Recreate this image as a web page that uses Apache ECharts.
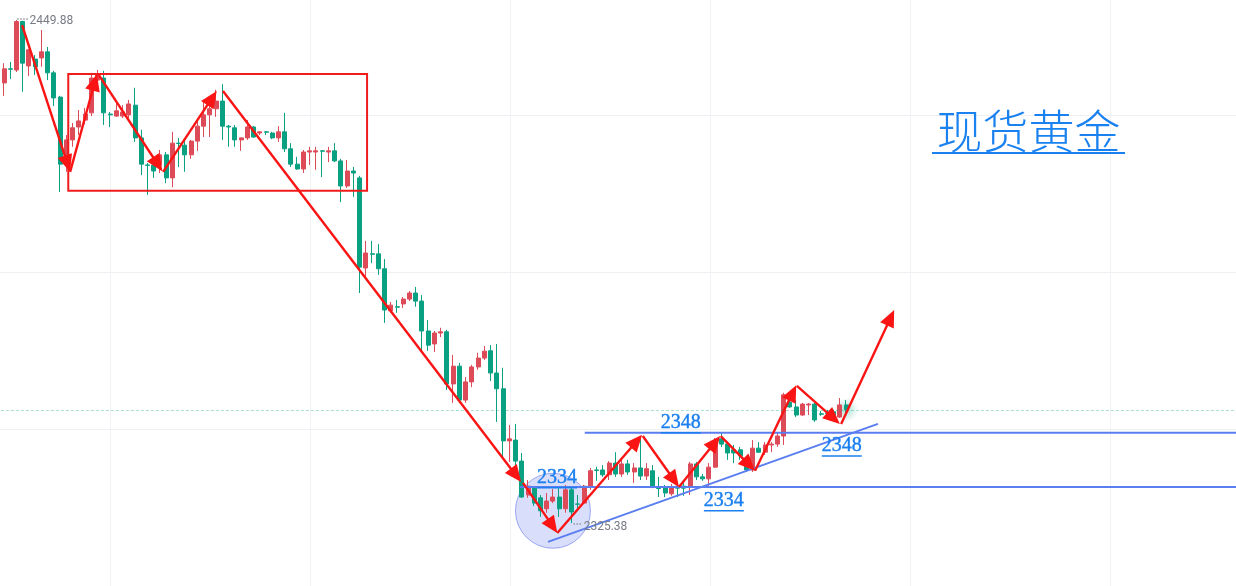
<!DOCTYPE html>
<html>
<head>
<meta charset="utf-8">
<title>现货黄金</title>
<script src="https://cdn.jsdelivr.net/npm/echarts@6.0.0/dist/echarts.min.js"></script>
<style>
html,body{margin:0;padding:0;background:#ffffff;overflow:hidden}
#chart{width:1236px;height:586px}
</style>
</head>
<body>
<div id="chart"></div>
<script>
// ---- candle values (price) ----
const opens = [
2434.3,2437.8,2437.5,2449.5,2438.5,2440.2,2440.5,2442.0,2436.8,2430.8,
2414.2,2420.2,2423.4,2425.1,2426.9,2435.0,2435.5,2426.6,2426.1,2426.1,
2426.4,2428.8,2420.7,2414.0,2414.0,2414.0,2416.5,2410.8,2419.4,2418.9,
2416.5,2419.9,2423.6,2426.4,2427.9,2429.8,2423.6,2423.2,2420.2,2420.7,
2423.4,2421.9,2422.2,2421.9,2420.7,2422.2,2418.0,2414.2,2413.0,2417.2,
2417.2,2417.5,2417.2,2417.5,2415.0,2408.8,2412.5,2410.8,2388.5,2392.0,
2392.0,2388.3,2377.9,2378.9,2379.6,2380.8,2382.3,2380.3,2372.9,2369.7,
2372.4,2372.7,2359.8,2364.2,2355.8,2360.3,2364.0,2366.2,2368.0,2362.5,
2358.6,2345.7,2345.9,2340.7,2332.3,2334.3,2331.6,2328.9,2330.8,2331.8,
2328.9,2333.6,2330.1,2330.3,2334.3,2338.5,2338.5,2337.3,2340.2,2337.5,
2340.0,2338.0,2339.0,2337.0,2338.3,2334.0,2334.3,2332.6,2334.5,2334.5,
2334.3,2340.0,2336.8,2336.3,2339.2,2346.2,2344.9,2343.5,2343.5,2339.7,
2338.5,2343.9,2342.9,2344.7,2344.9,2346.9,2355.3,2354.1,2352.1,2354.6,
2354.8,2352.4,2352.6,2352.9,2351.6,2354.6];
const closes = [
2437.8,2437.7,2449.5,2439.2,2442.5,2438.3,2442.0,2436.8,2430.6,2414.2,
2420.2,2423.2,2424.9,2426.6,2435.5,2436.5,2426.9,2426.4,2427.4,2427.1,
2429.1,2420.7,2414.2,2413.9,2412.5,2416.5,2410.8,2419.4,2419.3,2416.5,
2419.9,2423.6,2426.4,2427.9,2429.8,2423.6,2423.4,2420.2,2420.7,2423.4,
2420.9,2422.2,2422.1,2420.7,2422.2,2418.0,2414.2,2413.0,2417.2,2417.5,
2417.5,2417.4,2417.5,2415.0,2408.8,2412.5,2412.0,2388.7,2392.2,2391.9,
2388.3,2378.1,2379.3,2378.8,2380.8,2382.3,2380.3,2372.9,2369.4,2372.4,
2372.7,2359.8,2364.2,2355.8,2360.3,2364.0,2366.2,2367.9,2362.5,2358.6,
2345.7,2346.2,2340.7,2331.8,2334.5,2330.3,2328.4,2330.8,2331.8,2328.9,
2333.6,2328.1,2330.0,2334.5,2338.3,2338.4,2337.3,2340.2,2337.5,2340.0,
2338.0,2339.0,2337.0,2338.8,2334.3,2333.9,2332.8,2334.3,2334.0,2334.0,
2340.0,2336.8,2336.3,2339.2,2344.9,2344.9,2342.7,2342.7,2342.0,2338.5,
2343.9,2342.9,2344.7,2344.9,2346.9,2357.1,2354.1,2352.1,2354.8,2354.8,
2350.9,2352.3,2352.5,2352.1,2354.6,2353.4];
const lows = [
2431.1,2435.3,2437.0,2432.1,2436.0,2436.3,2438.3,2435.0,2428.6,2407.3,
2412.3,2418.5,2421.4,2424.1,2426.1,2434.5,2423.9,2423.4,2425.9,2425.6,
2425.6,2419.7,2411.5,2406.6,2410.8,2412.0,2409.5,2408.5,2413.5,2412.3,
2415.5,2417.5,2420.9,2420.9,2425.9,2420.2,2418.5,2418.5,2417.5,2420.2,
2420.7,2421.4,2421.4,2420.4,2419.7,2417.2,2413.5,2412.8,2412.0,2414.0,
2412.8,2411.0,2414.7,2414.7,2404.8,2408.3,2406.1,2382.3,2386.5,2389.7,
2386.8,2374.9,2377.4,2377.4,2378.6,2380.3,2378.9,2367.5,2368.0,2367.7,
2371.4,2358.3,2355.1,2355.1,2355.1,2359.0,2363.3,2365.7,2360.5,2350.4,
2341.2,2340.5,2339.7,2331.6,2331.6,2329.6,2326.9,2327.9,2330.3,2326.9,
2327.9,2325.38,2328.6,2330.1,2333.6,2335.8,2336.8,2336.0,2336.8,2336.8,
2337.3,2335.3,2336.0,2336.0,2334.0,2331.8,2331.8,2332.1,2331.8,2332.1,
2332.3,2336.0,2335.8,2334.3,2339.0,2344.2,2341.0,2340.2,2341.0,2338.0,
2338.0,2342.7,2342.2,2342.9,2344.2,2344.7,2353.9,2351.6,2351.9,2352.1,
2350.4,2351.9,2351.9,2351.9,2351.4,2352.6];
const highs = [
2439.2,2439.5,2449.88,2449.7,2442.6,2441.2,2447.4,2443.2,2437.3,2431.1,
2421.4,2424.4,2427.6,2428.1,2436.8,2437.5,2437.3,2427.1,2429.3,2428.8,
2430.1,2433.1,2422.7,2414.5,2415.2,2417.7,2417.2,2422.2,2420.7,2420.2,
2420.2,2425.1,2430.1,2430.6,2432.6,2434.0,2423.9,2423.9,2420.8,2425.1,
2423.6,2422.4,2422.4,2422.2,2423.6,2426.9,2419.4,2416.0,2417.7,2418.5,
2418.5,2417.7,2418.5,2419.4,2415.5,2415.2,2413.5,2411.3,2395.2,2395.2,
2394.4,2390.7,2380.1,2380.6,2381.3,2382.8,2383.8,2381.8,2375.6,2372.9,
2373.7,2373.2,2367.0,2365.0,2361.5,2364.5,2367.5,2369.2,2369.4,2369.7,
2363.8,2349.6,2349.9,2342.7,2336.0,2334.5,2332.3,2332.8,2333.8,2334.0,
2334.8,2334.5,2332.3,2334.8,2339.0,2339.3,2339.7,2340.7,2342.9,2341.5,
2341.0,2340.2,2346.9,2340.2,2339.7,2336.8,2334.8,2335.0,2335.3,2335.3,
2340.5,2340.5,2337.5,2340.2,2346.4,2347.7,2345.4,2344.7,2344.2,2340.5,
2345.9,2345.4,2345.4,2345.4,2347.9,2357.6,2356.3,2355.8,2355.1,2355.1,
2355.1,2353.1,2353.4,2353.4,2356.3,2355.8];

// bar slots on the time axis (136 drawn bars + empty space to the right)
const slotCount = 198;
const categories = Array.from({length: slotCount}, (_, i) => String(i + 1));
const priceMin = 2309.78, priceMax = 2454.83;

// ---- drawn annotations, in (bar index, price) ----
const arrowFrom = [[2.9,2448.6],[10.6,2412.3],[15.1,2436.5],[25.5,2412.3],[35.1,2432.3],[83.2,2335.3],[88.7,2322.9],[102.4,2346.9],[108.2,2334.3],[114.9,2346.9],[120.4,2338.3],[127.1,2359.3],[134.2,2349.9]];
const arrowTo   = [[10.6,2412.3],[14.9,2436.5],[25.4,2412.4],[34.1,2432.3],[82.9,2335.5],[88.7,2322.9],[102.3,2347.2],[108.2,2334.3],[114.8,2346.9],[120.4,2338.3],[127.0,2359.5],[134.0,2349.9],[142.7,2378.1]];
const boxCorners = [[10.3,2436.5],[58.2,2407.6]];
const levelValues = [2334.3, 2347.7];
const levelStarts = [82.7, 93.1];
const levelLabelPos = [[88.65,2336.5],[108.5,2350.1],[115.4,2330.8],[134.3,2344.4]];
const levelLabelText = ['2334','2348','2334','2348'];
const trendFrom = [87.2,2320.7], trendTo = [140.1,2349.9];
const circleCenter = [88.0,2328.4];
const titleText = '现货黄金';

const candleData = opens.map((o, i) => [o, closes[i], lows[i], highs[i]]);
const RED = '#de4b58', GREEN = '#0aa082';
const ARROW = '#fa1414', BLUE_LINE = '#5a7ef0', BLUE_TEXT = '#1a7ff0';
const hiddenAxis = {axisLine: {show: false}, axisTick: {show: false}, axisLabel: {show: false}};

const option = {
  animation: false,
  backgroundColor: '#ffffff',
  grid: [
    {left: 0.9, right: 0, top: 0, bottom: 0},
    {left: 110, right: 0, top: 0, bottom: 0},
    {left: 0, right: 0, top: 0, bottom: 0}
  ],
  xAxis: [
    {type: 'category', gridIndex: 0, data: categories, boundaryGap: true, show: false},
    {type: 'value', gridIndex: 0, min: -0.5, max: slotCount - 0.5, show: false},
    Object.assign({type: 'value', gridIndex: 1, min: 0, max: 1126, interval: 200,
     splitLine: {show: true, showMinLine: true, showMaxLine: false, lineStyle: {color: '#f1f2f5', width: 1}}}, hiddenAxis),
    Object.assign({type: 'value', gridIndex: 2, min: 0, max: 1236, splitLine: {show: false}}, hiddenAxis)
  ],
  yAxis: [
    {type: 'value', gridIndex: 0, min: priceMin, max: priceMax, show: false, splitLine: {show: false}},
    Object.assign({type: 'value', gridIndex: 1, min: 0, max: 586, splitLine: {show: false}}, hiddenAxis),
    Object.assign({type: 'value', gridIndex: 2, min: 0, max: 586, interval: 157,
     splitLine: {show: true, showMinLine: false, showMaxLine: false, lineStyle: {color: '#eff0f3', width: 1}}}, hiddenAxis)
  ],
  series: [{
    type: 'candlestick', xAxisIndex: 0, yAxisIndex: 0, data: candleData, barWidth: 4.5,
    itemStyle: {color: RED, color0: GREEN, borderColor: RED, borderColor0: GREEN, borderWidth: 1},
    markLine: {
      silent: true, symbol: ['none', 'none'], label: {show: false},
      lineStyle: {color: 'rgba(10,160,130,0.35)', type: [3, 2], width: 1},
      data: [{yAxis: closes[closes.length - 1]}]
    }
  }]
};

const chart = echarts.init(document.getElementById('chart'), null, {renderer: 'canvas'});
chart.setOption(option);

const px = v => chart.convertToPixel({xAxisIndex: 1}, v);
const py = v => chart.convertToPixel({yAxisIndex: 0}, v);
const pt = p => [px(p[0]), py(p[1])];
const measure = (() => {
  const ctx = document.createElement('canvas').getContext('2d');
  return (txt, font) => { ctx.font = font; return ctx.measureText(txt).width; };
})();

const els = [];
// circle highlight
const cc = pt(circleCenter);
els.push({type: 'circle', z: 1, shape: {cx: cc[0], cy: cc[1], r: 37.5},
  style: {fill: 'rgba(110,128,236,0.26)', stroke: 'rgba(100,118,236,0.6)', lineWidth: 1}});
// glow at last bar
const lastPt = pt([opens.length - 1, closes[closes.length - 1]]);
els.push({type: 'circle', z: 1, shape: {cx: lastPt[0], cy: lastPt[1], r: 12},
  style: {fill: {type: 'radial', x: 0.5, y: 0.5, r: 0.5, colorStops: [
    {offset: 0, color: 'rgba(10,160,130,0.35)'}, {offset: 1, color: 'rgba(10,160,130,0)'}]}}});
// rectangle
const b1 = pt(boxCorners[0]), b2 = pt(boxCorners[1]);
els.push({type: 'rect', z: 20, shape: {x: b1[0], y: b1[1], width: b2[0] - b1[0], height: b2[1] - b1[1]},
  style: {fill: 'none', stroke: '#f01c1c', lineWidth: 2}});
// level lines
levelValues.forEach((v, i) => {
  els.push({type: 'line', z: 15, shape: {x1: px(levelStarts[i]), y1: py(v), x2: px(slotCount - 0.5), y2: py(v)},
    style: {stroke: BLUE_LINE, lineWidth: 2}});
});
// trend line
const t1 = pt(trendFrom), t2 = pt(trendTo);
els.push({type: 'line', z: 15, shape: {x1: t1[0], y1: t1[1], x2: t2[0], y2: t2[1]}, style: {stroke: BLUE_LINE, lineWidth: 2}});
// arrows
arrowFrom.forEach((a, i) => {
  const [x1, y1] = pt(a), [x2, y2] = pt(arrowTo[i]);
  const dx = x2 - x1, dy = y2 - y1, len = Math.hypot(dx, dy), ux = dx / len, uy = dy / len;
  const L = 17, W = 7.5, bx = x2 - ux * L, by = y2 - uy * L;
  els.push({type: 'line', z: 20, shape: {x1, y1, x2: bx + ux * 3, y2: by + uy * 3}, style: {stroke: ARROW, lineWidth: 2.4}});
  els.push({type: 'polygon', z: 20, shape: {points: [[x2, y2], [bx - uy * W, by + ux * W], [bx + uy * W, by - ux * W]]},
    style: {fill: ARROW}});
});
// level labels (underlined)
const labFont = '20px "Liberation Serif"';
levelLabelPos.forEach((p, i) => {
  const [x, y] = pt(p);
  const w = measure(levelLabelText[i], labFont);
  els.push({type: 'text', z: 25, x: x, y: y,
    style: {text: levelLabelText[i], font: labFont, fill: BLUE_TEXT, stroke: BLUE_TEXT, lineWidth: 0.4,
            align: 'center', verticalAlign: 'middle', textAlign: 'center', textVerticalAlign: 'middle'}});
  els.push({type: 'rect', z: 25, shape: {x: x - w / 2, y: y + 9, width: w, height: 1.5}, style: {fill: BLUE_TEXT}});
});
// high / low price labels
let hi = 0, lo = 0;
highs.forEach((v, i) => { if (v > highs[hi]) hi = i; });
lows.forEach((v, i) => { if (v < lows[lo]) lo = i; });
const hp = pt([hi, highs[hi]]), lp = pt([lo, lows[lo]]);
const grayFont = '12px Roboto';
els.push({type: 'line', z: 25, shape: {x1: hp[0] + 1, y1: hp[1] - 1, x2: hp[0] + 11, y2: hp[1] - 1},
  style: {stroke: '#8a8d96', lineWidth: 2, lineDash: [1, 2]}});
els.push({type: 'text', z: 25, x: hp[0] + 13, y: hp[1] + 1.5,
  style: {text: highs[hi].toFixed(2), font: grayFont, fill: '#787b86', align: 'left', verticalAlign: 'middle',
          textAlign: 'left', textVerticalAlign: 'middle'}});
els.push({type: 'line', z: 25, shape: {x1: lp[0] + 2, y1: lp[1] + 1, x2: lp[0] + 11, y2: lp[1] + 1},
  style: {stroke: '#8a8d96', lineWidth: 2, lineDash: [1, 2]}});
els.push({type: 'text', z: 25, x: lp[0] + 12, y: lp[1] + 4,
  style: {text: lows[lo].toFixed(2), font: grayFont, fill: '#787b86', align: 'left', verticalAlign: 'middle',
          textAlign: 'left', textVerticalAlign: 'middle'}});
// title with underline
const titleFont = '200 46px "Noto Sans CJK SC"';
els.push({type: 'text', z: 30, x: 1028.5, y: 131,
  style: {text: titleText, font: titleFont, fill: '#1a82f0', align: 'center', verticalAlign: 'middle',
          textAlign: 'center', textVerticalAlign: 'middle'}});
els.push({type: 'rect', z: 30, shape: {x: 932, y: 152, width: 193, height: 2}, style: {fill: '#1a82f0'}});

chart.setOption({graphic: {elements: els}});
</script>
</body>
</html>
